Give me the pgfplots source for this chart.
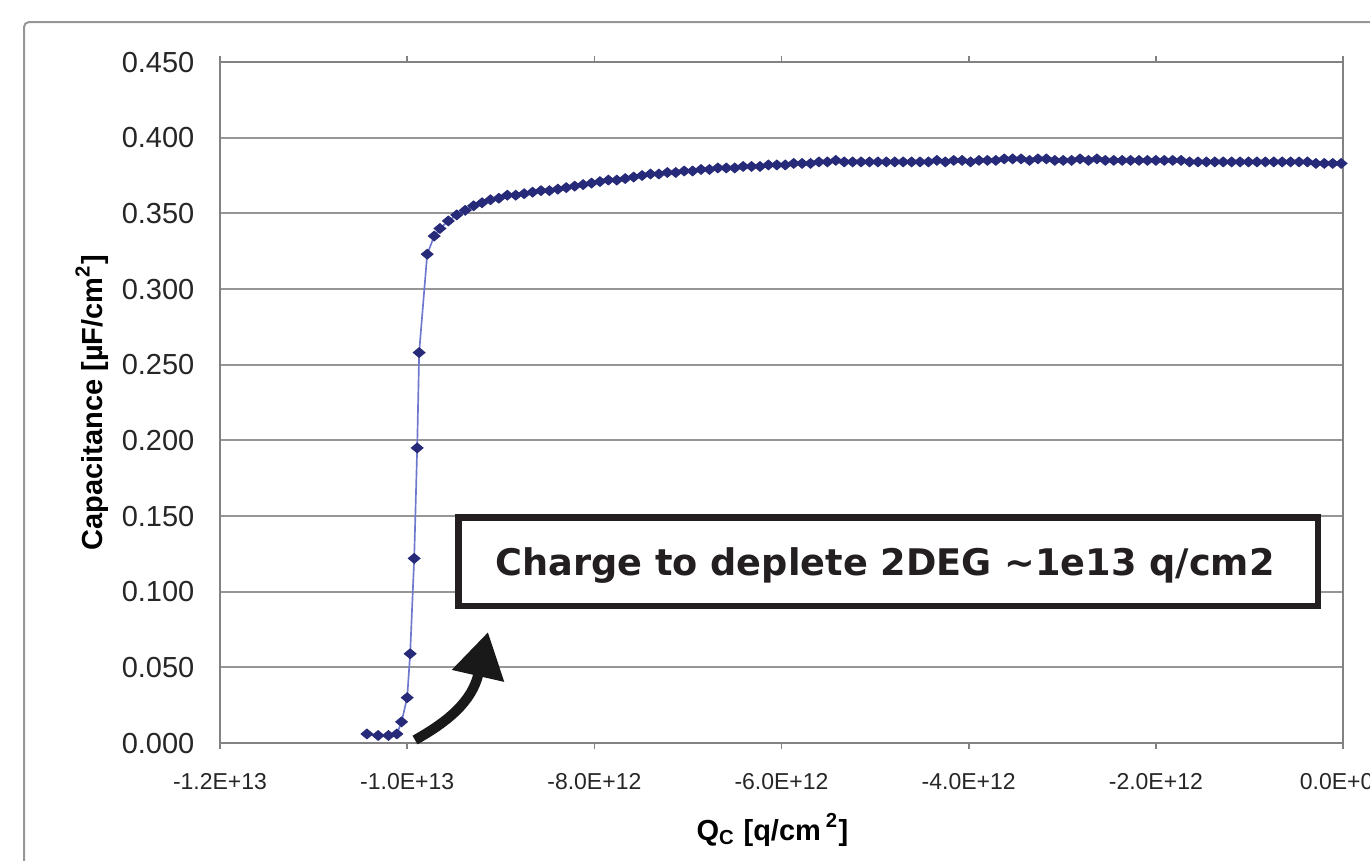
\documentclass[border=0pt]{standalone}
\usepackage{fontspec}
\setmainfont{Liberation Sans}
\newfontfamily\boxfont{DejaVu Sans}
\usepackage{pgfplots}
\pgfplotsset{compat=1.18}
\usetikzlibrary{arrows.meta}
\definecolor{frameGray}{RGB}{150,150,150}
\definecolor{gridGray}{RGB}{150,150,150}
\definecolor{axisGray}{RGB}{130,130,130}
\definecolor{markNavy}{RGB}{38,42,120}
\definecolor{lineBlue}{RGB}{110,120,205}
\definecolor{boxInk}{RGB}{35,31,32}
\begin{document}
\begin{tikzpicture}
\path[use as bounding box] (0,0) rectangle (411pt,-258pt);
\begin{scope}[x=0.3pt,y=-0.3pt]
  \draw[frameGray,line width=0.6pt,rounded corners=1.5pt] (24,900) -- (24,22) -- (1400,22);
\end{scope}
\begin{axis}[
  at={(66pt,-222.9pt)},anchor=south west,
  scale only axis,width=336.9pt,height=204.3pt,
  xmin=-12,xmax=0,ymin=0,ymax=0.45,
  clip=false,
  xtick={-12,-10,-8,-6,-4,-2,0},
  xticklabels={-1.2E+13,-1.0E+13,-8.0E+12,-6.0E+12,-4.0E+12,-2.0E+12,0.0E+00},
  ytick={0,0.05,0.1,0.15,0.2,0.25,0.3,0.35,0.4,0.45},
  yticklabels={0.000,0.050,0.100,0.150,0.200,0.250,0.300,0.350,0.400,0.450},
  ymajorgrids=true,
  grid style={gridGray,line width=0.6pt},
  axis line style={axisGray,line width=0.6pt},
  x tick style={axisGray,line width=0.5pt},
  xtick align=outside,
  major tick length=1.8pt,
  y tick style={draw=none},
  x tick label style={font=\fontsize{6.9}{8}\selectfont,text=black!85,inner sep=0pt,yshift=-7pt},
  y tick label style={font=\fontsize{8.7}{10}\selectfont,text=black!85,inner sep=0pt,xshift=-7.5pt},
  xlabel={\bfseries Q\textsubscript{C} [q/cm\,\textsuperscript{2}]},
  ylabel={\bfseries Capacitance [µF/cm\textsuperscript{2}]},
  label style={font=\fontsize{8.7}{10}\selectfont},
  xlabel style={at={(axis description cs:0.492,-0.128)},anchor=center},
  ylabel style={at={(axis description cs:-0.114,0.5)},anchor=center},
]
\addplot[lineBlue,line width=0.5pt,mark=diamond*,mark size=1.45pt,
  mark options={markNavy,fill=markNavy,line width=0.3pt,xscale=1.6}]
coordinates {
(-10.43,0.006) (-10.31,0.005) (-10.20,0.005) (-10.11,0.006) (-10.06,0.014)
(-10.00,0.030) (-9.968,0.059) (-9.925,0.122) (-9.893,0.195) (-9.872,0.258)
(-9.786,0.323) (-9.711,0.335)
(-9.65,0.340) (-9.56,0.345) (-9.47,0.349) (-9.38,0.352) (-9.29,0.355)
(-9.20,0.357) (-9.11,0.359) (-9.02,0.360) (-8.93,0.362) (-8.84,0.362)
(-8.75,0.363) (-8.66,0.364) (-8.57,0.365) (-8.48,0.365) (-8.39,0.366)
(-8.30,0.367) (-8.21,0.368) (-8.12,0.369) (-8.03,0.370) (-7.94,0.371)
(-7.85,0.372) (-7.76,0.372) (-7.67,0.373) (-7.58,0.374) (-7.49,0.375)
(-7.40,0.376) (-7.31,0.376) (-7.22,0.377) (-7.13,0.377) (-7.04,0.378)
(-6.95,0.378) (-6.86,0.379) (-6.77,0.379) (-6.68,0.380) (-6.59,0.380)
(-6.50,0.380) (-6.41,0.381) (-6.32,0.381) (-6.23,0.381) (-6.14,0.382)
(-6.05,0.382) (-5.96,0.382) (-5.87,0.383) (-5.78,0.383) (-5.69,0.383)
(-5.60,0.384) (-5.51,0.384) (-5.42,0.385) (-5.33,0.384) (-5.24,0.384)
(-5.15,0.384) (-5.06,0.384) (-4.97,0.384) (-4.88,0.384) (-4.79,0.384)
(-4.70,0.384) (-4.61,0.384) (-4.52,0.384) (-4.43,0.384) (-4.34,0.385)
(-4.25,0.384) (-4.16,0.385) (-4.07,0.385) (-3.98,0.384) (-3.89,0.385)
(-3.80,0.385) (-3.71,0.385) (-3.62,0.386) (-3.53,0.386) (-3.44,0.386)
(-3.35,0.385) (-3.26,0.386) (-3.17,0.386) (-3.08,0.385) (-2.99,0.385)
(-2.90,0.385) (-2.81,0.386) (-2.72,0.385) (-2.63,0.386) (-2.54,0.385)
(-2.45,0.385) (-2.36,0.385) (-2.27,0.385) (-2.18,0.385) (-2.09,0.385)
(-2.00,0.385) (-1.91,0.385) (-1.82,0.385) (-1.73,0.385) (-1.64,0.384)
(-1.55,0.384) (-1.46,0.384) (-1.37,0.384) (-1.28,0.384) (-1.19,0.384)
(-1.10,0.384) (-1.01,0.384) (-0.92,0.384) (-0.83,0.384) (-0.74,0.384)
(-0.65,0.384) (-0.56,0.384) (-0.47,0.384) (-0.38,0.384) (-0.29,0.383)
(-0.20,0.383) (-0.11,0.383) (-0.02,0.383)
};
\end{axis}
\begin{scope}[x=0.3pt,y=-0.3pt]
  \draw[boxInk,line width=1.9pt,fill=white] (458.5,517.5) rectangle (1318,606);
  \node[text=boxInk,font=\boxfont\bfseries\fontsize{11}{13}\selectfont] at (885,565) {Charge to deplete 2DEG \textasciitilde1e13 q/cm2};
  \draw[black!90,line width=3pt,-{Triangle[length=13.5pt,width=15.3pt]}]
    (415,740) .. controls (447,722) and (472,702) .. (488,632);
\end{scope}
\end{tikzpicture}
\end{document}
